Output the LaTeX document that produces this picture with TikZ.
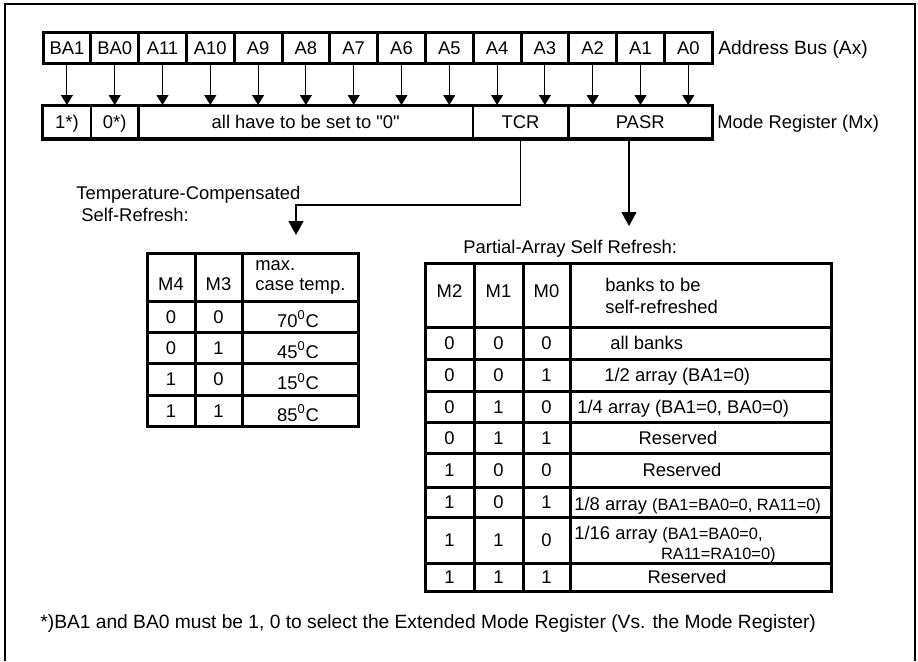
\documentclass[tikz,border=0pt]{standalone}
\usepackage{fontspec}
\newfontfamily\diagfont{Liberation Sans}
\usetikzlibrary{arrows.meta,positioning}
\newcommand{\smallfont}{\diagfont\fontsize{8.2}{10}\selectfont}
\newcommand{\largefont}{\diagfont\fontsize{9.6}{11}\selectfont}

\begin{document}
\begin{tikzpicture}[x=0.5pt,y=-0.5pt,
    font=\diagfont\fontsize{9.2}{11}\selectfont,
    cell/.style={rectangle, draw, line width=1.5pt, minimum width=23.9pt, minimum height=15.5pt, inner sep=0pt, text height=6.6pt, text depth=0pt},
    regcell/.style={rectangle, draw, line width=1pt, minimum height=16pt, inner sep=0pt, text height=6.6pt, text depth=0pt},
    txt/.style={inner sep=0pt, text height=6.6pt, text depth=0pt},
    smalltxt/.style={font=\smallfont},
    tabline/.style={line width=1.5pt},
    busarrow/.style={line width=0.5pt, -{Triangle[width=6pt,length=5pt]}},
    selarrow/.style={line width=0.6pt, -{Triangle[width=7.5pt,length=7pt]}}
]
\useasboundingbox (0,0) rectangle (918,661);

% outer frame
\draw[line width=0.6pt] (5,661) |- (915,4) -- (915,661);

% address bus
\foreach \lab [count=\i from 0] in {BA1,BA0,A11,A10,A9,A8,A7,A6,A5,A4,A3,A2,A1,A0}
  \node[cell] (bus\i) at ({66.9+47.8*\i},47.5) {\lab};
\node[txt, font=\largefont, anchor=west] (buslabel) at (718,47.5) {Address Bus (Ax)};

% mode register
\node[regcell, minimum width=23.9pt] (mrone) at (66.9,122) {1*)};
\node[regcell, minimum width=23.9pt] (mrzero) at (114.7,122) {0*)};
\node[regcell, minimum width=167.3pt] (mrrest) at (305.7,122) {all have to be set to "0"};
\node[regcell, minimum width=47.8pt] (tcr) at (520.6,122) {TCR};
\node[regcell, minimum width=71.7pt] (pasr) at (640.2,122) {PASR};
\draw[tabline] (mrone.north west) rectangle (pasr.south east);
\node[txt, anchor=west] (mrlabel) at (717,122) {Mode Register (Mx)};

\foreach \i in {0,...,13}
  \draw[busarrow] (bus\i.south) -- (bus\i.south |- mrrest.north);

% TCR / PASR selectors
\coordinate (tcrbend) at (296,205);
\coordinate (tcrend) at (296,235);
\draw[selarrow] (tcr.south) |- (tcrbend) -- (tcrend);
\coordinate (pasrend) at (629,226);
\draw[selarrow] (pasr.south -| pasrend) -- (pasrend);

\node[txt, anchor=west] (tcrtitle1) at (76,193) {Temperature-Compensated};
\node[txt, anchor=west] (tcrtitle2) at (81,215) {Self-Refresh:};
\node[txt, anchor=west] (pasrtitle) at (463,247) {Partial-Array Self Refresh:};

% TCR table
\draw[tabline] (147,253) rectangle (358,426);
\foreach \x in {195,242} \draw[tabline] (\x,253) -- (\x,426);
\foreach \y in {301,332,363,395} \draw[tabline] (147,\y) -- (358,\y);
\node[txt] (tcrm4) at (171,284) {M4};
\node[txt] (tcrm3) at (218.5,284) {M3};
\node[txt, anchor=west] (tcrhd1) at (255,264) {max.};
\node[txt, anchor=west] (tcrhd2) at (255,284) {case temp.};
\foreach \a/\b/\t [count=\r from 0] in {0/0/70,0/1/45,1/0/15,1/1/85} {
  \node[txt] (tcra\r) at (171,{316.5+31.3*\r}) {\a};
  \node[txt] (tcrb\r) at (218.5,{316.5+31.3*\r}) {\b};
  \node[txt] (tcrt\r) at (298,{320.5+31.3*\r}) {\t\textsuperscript{0}C};
}

% PASR table
\draw[tabline] (425,263) rectangle (831,591);
\foreach \x in {474,523,570} \draw[tabline] (\x,263) -- (\x,591);
\foreach \y in {327,359,391,422,453,487,517,563} \draw[tabline] (425,\y) -- (831,\y);
\node[txt] (pasrm2) at (449.5,291) {M2};
\node[txt] (pasrm1) at (498.5,291) {M1};
\node[txt] (pasrm0) at (546.5,291) {M0};
\node[txt, anchor=west] (pasrhd1) at (605,285) {banks to be};
\node[txt, anchor=west] (pasrhd2) at (605,307) {self-refreshed};
\foreach \a/\b/\c/\y [count=\r from 0] in {0/0/0/343,0/0/1/375,0/1/0/406.5,0/1/1/437.5,1/0/0/470,1/0/1/502,1/1/0/540,1/1/1/577} {
  \node[txt] (pasra\r) at (449.5,\y) {\a};
  \node[txt] (pasrb\r) at (498.5,\y) {\b};
  \node[txt] (pasrc\r) at (546.5,\y) {\c};
}
\node[txt, anchor=west] (pasrd0) at (610,343) {all banks};
\node[txt, anchor=west] (pasrd1) at (604,375) {1/2 array (BA1=0)};
\node[txt, anchor=west] (pasrd2) at (577,406.5) {1/4 array (BA1=0, BA0=0)};
\node[txt] (pasrd3) at (678,437.5) {Reserved};
\node[txt] (pasrd4) at (682,470) {Reserved};
\node[txt, anchor=west] (pasrd5) at (574,504) {1/8 array {\smallfont (BA1=BA0=0, RA11=0)}};
\node[txt, anchor=west] (pasrd6) at (574,533) {1/16 array {\smallfont (BA1=BA0=0,}};
\node[txt, smalltxt, anchor=east] (pasrd6b) at (776,553) {RA11=RA10=0)};
\node[txt] (pasrd7) at (687,577) {Reserved};

% footnote
\node[txt, font=\largefont, anchor=west] (footnote) at (40,622) {*)BA1 and BA0 must be 1, 0 to select the Extended Mode Register (Vs. the Mode Register)};

\end{tikzpicture}
\end{document}
